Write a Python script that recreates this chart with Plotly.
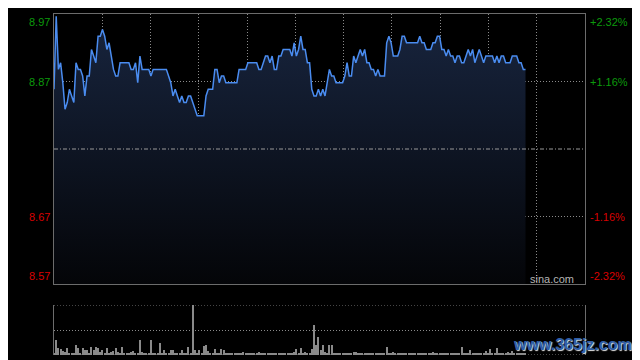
import plotly.graph_objects as go

# ---------------- data ----------------
prev_close = 8.77
pct_levels = [2.32, 1.16, -1.16, -2.32]
left_labels = ["8.97", "8.87", "8.67", "8.57"]
right_labels = ["+2.32%", "+1.16%", "-1.16%", "-2.32%"]
total_minutes = 242

prices = [
    8.86, 8.97, 8.89, 8.90, 8.87, 8.83, 8.84, 8.86, 8.85, 8.84,
    8.90, 8.89, 8.89, 8.88, 8.85, 8.88, 8.88, 8.92, 8.91, 8.90,
    8.94, 8.94, 8.95, 8.94, 8.92, 8.93, 8.91, 8.89, 8.88, 8.88,
    8.90, 8.90, 8.90, 8.90, 8.90, 8.89, 8.89, 8.90, 8.87, 8.91,
    8.89, 8.89, 8.89, 8.89, 8.88, 8.89, 8.89, 8.89, 8.89, 8.89,
    8.89, 8.89, 8.88, 8.87, 8.85, 8.86, 8.85, 8.84, 8.85, 8.84,
    8.84, 8.85, 8.85, 8.84, 8.83, 8.82, 8.82, 8.82, 8.82, 8.85,
    8.86, 8.86, 8.86, 8.89, 8.89, 8.87, 8.88, 8.88, 8.87, 8.87,
    8.87, 8.87, 8.87, 8.87, 8.89, 8.89, 8.89, 8.89, 8.90, 8.90,
    8.90, 8.90, 8.90, 8.89, 8.89, 8.90, 8.91, 8.91, 8.90, 8.91,
    8.89, 8.89, 8.91, 8.91, 8.92, 8.92, 8.92, 8.92, 8.91, 8.93,
    8.91, 8.92, 8.94, 8.92, 8.92, 8.90, 8.90, 8.86, 8.85, 8.85,
    8.86, 8.85, 8.86, 8.85, 8.87, 8.89, 8.88, 8.88, 8.87, 8.87,
    8.87, 8.87, 8.88, 8.90, 8.88, 8.88, 8.91, 8.90, 8.91, 8.92,
    8.91, 8.92, 8.90, 8.90, 8.89, 8.89, 8.88, 8.89, 8.88, 8.88,
    8.88, 8.93, 8.94, 8.93, 8.91, 8.91, 8.91, 8.92, 8.94, 8.94,
    8.93, 8.93, 8.93, 8.93, 8.93, 8.93, 8.94, 8.93, 8.93, 8.92,
    8.92, 8.92, 8.93, 8.93, 8.94, 8.94, 8.92, 8.92, 8.91, 8.92,
    8.91, 8.91, 8.90, 8.91, 8.91, 8.90, 8.90, 8.91, 8.92, 8.91,
    8.92, 8.90, 8.91, 8.92, 8.91, 8.90, 8.91, 8.91, 8.91, 8.91,
    8.90, 8.91, 8.90, 8.91, 8.91, 8.90, 8.90, 8.90, 8.91, 8.91,
    8.91, 8.90, 8.90, 8.89, 8.89,
]

# volume (hundreds of shares)
volumes = [
    2, 15, 7, 6, 4, 3, 7, 1, 2, 1,
    10, 7, 1, 7, 5, 5, 2, 8, 5, 8,
    7, 3, 5, 1, 7, 2, 3, 4, 7, 3,
    1, 8, 2, 2, 1, 3, 4, 1, 2, 15,
    3, 1, 2, 2, 15, 1, 2, 1, 12, 1,
    5, 2, 1, 5, 5, 1, 2, 1, 5, 2,
    1, 8, 1, 50, 5, 1, 5, 2, 9, 10,
    4, 1, 2, 6, 1, 2, 6, 5, 1, 2,
    1, 1, 2, 2, 1, 1, 3, 1, 2, 1,
    1, 2, 1, 3, 1, 1, 2, 2, 1, 1,
    2, 1, 1, 2, 1, 1, 2, 1, 2, 3,
    6, 2, 7, 1, 3, 2, 1, 6, 30, 10,
    18, 5, 10, 3, 2, 10, 10, 2, 1, 2,
    1, 1, 2, 1, 2, 1, 3, 3, 1, 2,
    1, 1, 2, 2, 1, 1, 2, 1, 1, 2,
    1, 8, 2, 1, 3, 1, 2, 2, 1, 2,
    1, 1, 2, 1, 1, 2, 1, 2, 1, 1,
    2, 1, 3, 1, 2, 1, 1, 2, 1, 1,
    2, 1, 2, 1, 1, 8, 2, 1, 2, 5,
    1, 2, 1, 1, 2, 1, 4, 1, 6, 2,
    1, 7, 1, 2, 1, 1, 3, 1, 4, 1,
    2, 1, 2, 1, 2,
]
vol_max = 50

# ---------------- derived ----------------
minutes = list(range(len(prices)))
max_pct = max(pct_levels) / 100.0
y_lo = prev_close * (1 - max_pct)
y_hi = prev_close * (1 + max_pct)
label_levels = [prev_close * (1 + p / 100.0) for p in pct_levels]
grid_x = [(total_minutes - 1) * k / 11 for k in range(1, 11)]

FONT = "Liberation Sans, Arial, sans-serif"
GREEN = "#0c9a0c"
RED = "#d80000"
GRID = "#8a8a8a"
BORDER = "#6c6c6c"

fig = go.Figure()

fig.add_trace(go.Scatter(
    x=minutes, y=prices, mode="lines",
    line=dict(color="#4a8cf0", width=1.5),
    fill="tozeroy",
    fillgradient=dict(type="vertical", start=y_lo, stop=y_hi,
                      colorscale=[[0, "#040508"], [1, "#18253f"]]),
    xaxis="x", yaxis="y", hoverinfo="skip", showlegend=False,
))

fig.add_trace(go.Bar(
    x=minutes, y=volumes, width=0.5,
    marker=dict(color="#8a8a8a", line=dict(width=0)),
    xaxis="x2", yaxis="y2", hoverinfo="skip", showlegend=False,
))

# prev close line
fig.add_shape(type="line", xref="x domain", x0=0, x1=1, yref="y",
              y0=prev_close, y1=prev_close,
              line=dict(color="#9a9a9a", width=1, dash="4px,2px,1px,2px"))

# volume panel dotted top / bottom lines
for yv in [0, vol_max]:
    fig.add_shape(type="line", xref="x2 domain", x0=0, x1=1, yref="y2",
                  y0=yv, y1=yv, line=dict(color=GRID, width=1, dash="1px,2px"))

annotations = []
for lvl, lt, rt, p in zip(label_levels, left_labels, right_labels, pct_levels):
    col = GREEN if p > 0 else RED
    if lvl == max(label_levels):
        ya = "top"
    elif lvl == min(label_levels):
        ya = "bottom"
    else:
        ya = "middle"
    annotations.append(dict(xref="paper", x=0, xanchor="right", xshift=-2,
                            yref="y", y=min(max(lvl, y_lo), y_hi), yanchor=ya,
                            text=lt, showarrow=False,
                            font=dict(family=FONT, size=11, color=col)))
    annotations.append(dict(xref="paper", x=1, xanchor="left", xshift=3,
                            yref="y", y=min(max(lvl, y_lo), y_hi), yanchor=ya,
                            text=rt, showarrow=False,
                            font=dict(family=FONT, size=11, color=col)))

annotations.append(dict(xref="x domain", x=0.983, xanchor="right",
                        yref="y domain", y=0, yanchor="bottom", yshift=-3,
                        text="sina.com", showarrow=False,
                        font=dict(family=FONT, size=11, color="#b4b4b4")))
annotations.append(dict(xref="paper", x=1.092, xanchor="right",
                        yref="paper", y=0.03, yanchor="middle",
                        text="www.365jz.com", showarrow=False,
                        font=dict(family=FONT, size=16, color="#2f5fa8",
                                  weight="bold", shadow="1px 1px 1px #e8e8e8")))

# page body has an 8px margin: figure is 632x352 so it fits the 640x360 window
fig.update_layout(
    width=632, height=352,
    margin=dict(l=46, r=55, t=6, b=5),
    paper_bgcolor="#000000", plot_bgcolor="#000000",
    showlegend=False,
    bargap=0,
    annotations=annotations,
    xaxis=dict(domain=[0, 1], range=[0, total_minutes - 1], anchor="y",
               tickvals=grid_x, showticklabels=False, ticks="",
               showgrid=True, gridcolor=GRID, gridwidth=1, griddash="1px,2px",
               zeroline=False, showline=True, linecolor=BORDER, linewidth=1,
               mirror=True, fixedrange=True),
    yaxis=dict(domain=[0.2082, 1], range=[y_lo, y_hi], anchor="x",
               tickvals=[label_levels[1], label_levels[2]],
               showticklabels=False, ticks="",
               showgrid=True, gridcolor=GRID, gridwidth=1, griddash="1px,2px",
               zeroline=False, showline=True, linecolor=BORDER, linewidth=1,
               mirror=True, fixedrange=True),
    xaxis2=dict(domain=[0, 1], range=[0, total_minutes - 1], anchor="y2",
                showticklabels=False, ticks="", showgrid=False,
                zeroline=False, showline=False, fixedrange=True),
    yaxis2=dict(domain=[0, 0.1466], range=[0, vol_max], anchor="x2",
                tickvals=[vol_max / 2], showticklabels=False, ticks="",
                showgrid=True, gridcolor=GRID, gridwidth=1, griddash="1px,2px",
                zeroline=False, showline=True, linecolor=BORDER, linewidth=1,
                mirror=True, fixedrange=True),
)

fig.write_html("out.html", config={"displayModeBar": False})
